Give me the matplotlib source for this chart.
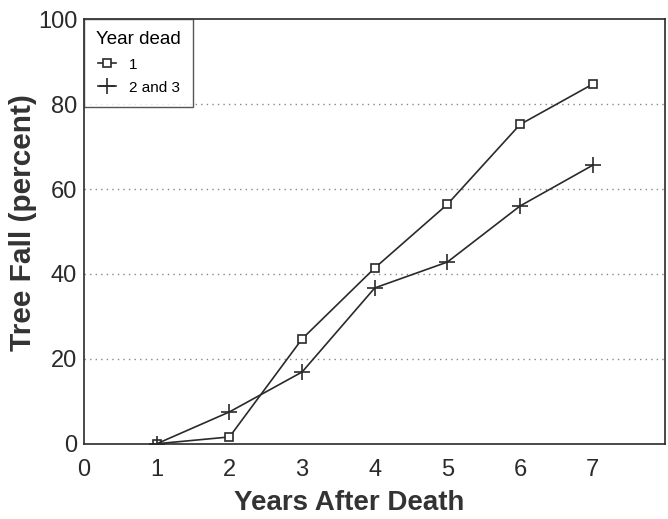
import matplotlib
matplotlib.use("Agg")
import matplotlib.pyplot as plt

years = [1, 2, 3, 4, 5, 6, 7]
dead_year1 = [0, 1.6, 24.7, 41.4, 56.4, 75.2, 84.7]
dead_year23 = [0, 7.5, 16.9, 36.7, 42.8, 56.0, 65.6]
x_ticks = [0, 1, 2, 3, 4, 5, 6, 7]
y_ticks = [0, 20, 40, 60, 80, 100]

plt.rcParams["font.family"] = ["Liberation Sans", "DejaVu Sans"]
ink = "#2a2a2a"

fig = plt.figure(figsize=(6.68, 5.19), dpi=100)
ax = fig.add_axes([0.126, 0.145, 0.870, 0.818])

ax.plot(years, dead_year1, color=ink, lw=1.2, marker="s", ms=6,
        mfc="white", mec=ink, mew=1.2, label="1")
ax.plot(years, dead_year23, color=ink, lw=1.2, marker="+", ms=12,
        mew=1.2, label="2 and 3")

ax.set_xlim(0, 8)
ax.set_ylim(0, 100)
ax.set_xticks(x_ticks)
ax.set_yticks(y_ticks)
ax.tick_params(length=0, labelsize=17, colors=ink)
ax.tick_params(axis="x", pad=11)
ax.tick_params(axis="y", pad=5)

# dotted reference lines
for y in y_ticks[1:-1]:
    ax.axhline(y, color="#888888", lw=1, ls=(0, (1, 3)), zorder=0)

for s in ax.spines.values():
    s.set_color(ink)
    s.set_linewidth(1.2)

ax.set_xlabel("Years After Death", fontsize=20, fontweight="bold",
              color="#333333")
ax.xaxis.set_label_coords(0.456, -0.108)
ax.set_ylabel("Tree Fall (percent)", fontsize=21.5, fontweight="bold",
              color="#333333")
ax.yaxis.set_label_coords(-0.082, 0.522)

leg = ax.legend(title="Year dead", loc="upper left", borderaxespad=0,
                fancybox=False, edgecolor=ink, fontsize=11,
                title_fontsize=13.5, handlelength=1.2, labelspacing=0.6,
                borderpad=0.8, alignment="center")
leg.get_frame().set_linewidth(1.0)

fig.savefig("out.png", dpi=100)
